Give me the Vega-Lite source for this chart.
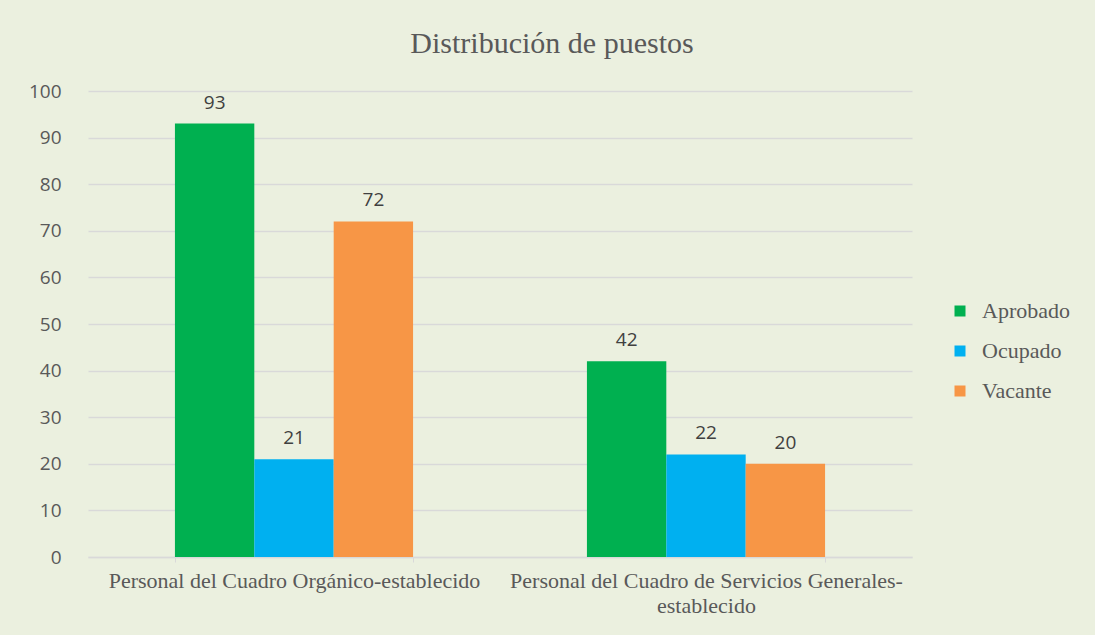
{
  "$schema": "https://vega.github.io/schema/vega-lite/v6.json",
  "autosize": {"type": "none"},
  "width": 824,
  "height": 466,
  "padding": {"left": 88, "top": 91, "right": 183, "bottom": 78},
  "background": "#EBF0DF",
  "title": {
    "text": "Distribución de puestos",
    "font": "Liberation Serif",
    "fontSize": 30,
    "fontWeight": "normal",
    "color": "#595959",
    "anchor": "middle",
    "dx": 52,
    "offset": 23
  },
  "data": {
    "values": [
      {"categoria": "Personal del Cuadro Orgánico-establecido", "serie": "Aprobado", "valor": 93},
      {"categoria": "Personal del Cuadro Orgánico-establecido", "serie": "Ocupado", "valor": 21},
      {"categoria": "Personal del Cuadro Orgánico-establecido", "serie": "Vacante", "valor": 72},
      {"categoria": "Personal del Cuadro de Servicios Generales-establecido", "serie": "Aprobado", "valor": 42},
      {"categoria": "Personal del Cuadro de Servicios Generales-establecido", "serie": "Ocupado", "valor": 22},
      {"categoria": "Personal del Cuadro de Servicios Generales-establecido", "serie": "Vacante", "valor": 20}
    ]
  },
  "encoding": {
    "x": {
      "field": "categoria",
      "type": "nominal",
      "sort": null,
      "title": null,
      "scale": {"paddingInner": 0.422, "paddingOuter": 0.211},
      "axis": {
        "labelAngle": 0,
        "labelFont": "Liberation Serif",
        "labelFontSize": 22,
        "labelColor": "#595959",
        "labelPadding": 8,
        "labelLineHeight": 25,
        "labelLimit": 600,
        "labelExpr": "datum.value == 'Personal del Cuadro de Servicios Generales-establecido' ? ['Personal del Cuadro de Servicios Generales-', 'establecido'] : datum.label",
        "tickBand": "extent",
        "ticks": true,
        "tickSize": 5,
        "tickColor": "#D9D9D9",
        "domainColor": "#D9D9D9",
        "domainWidth": 1.5
      }
    },
    "xOffset": {"field": "serie", "type": "nominal", "sort": ["Aprobado", "Ocupado", "Vacante"]},
    "y": {
      "field": "valor",
      "type": "quantitative",
      "title": null,
      "scale": {"domain": [0, 100], "nice": false},
      "axis": {
        "values": [0, 10, 20, 30, 40, 50, 60, 70, 80, 90, 100],
        "labelFont": "Open Sans",
        "labelFontSize": 19,
        "labelColor": "#595959",
        "labelPadding": 27,
        "ticks": false,
        "domain": false,
        "gridColor": "#D9D9D9",
        "gridWidth": 1.3
      }
    }
  },
  "layer": [
    {
      "mark": {"type": "bar"},
      "encoding": {
        "color": {
          "field": "serie",
          "type": "nominal",
          "sort": ["Aprobado", "Ocupado", "Vacante"],
          "scale": {"domain": ["Aprobado", "Ocupado", "Vacante"], "range": ["#00B050", "#00B0F0", "#F79646"]},
          "legend": {
            "title": null,
            "orient": "none",
            "legendX": 861,
            "legendY": 209,
            "symbolType": "square",
            "symbolSize": 121,
            "symbolStrokeWidth": 0,
            "labelFont": "Liberation Serif",
            "labelFontSize": 22,
            "labelColor": "#595959",
            "labelOffset": 11,
            "rowPadding": 18
          }
        }
      }
    },
    {
      "mark": {
        "type": "text",
        "baseline": "alphabetic",
        "dy": -15,
        "font": "Open Sans",
        "fontSize": 19,
        "color": "#404040"
      },
      "encoding": {"text": {"field": "valor", "type": "quantitative"}}
    }
  ],
  "config": {"view": {"stroke": null}}
}
